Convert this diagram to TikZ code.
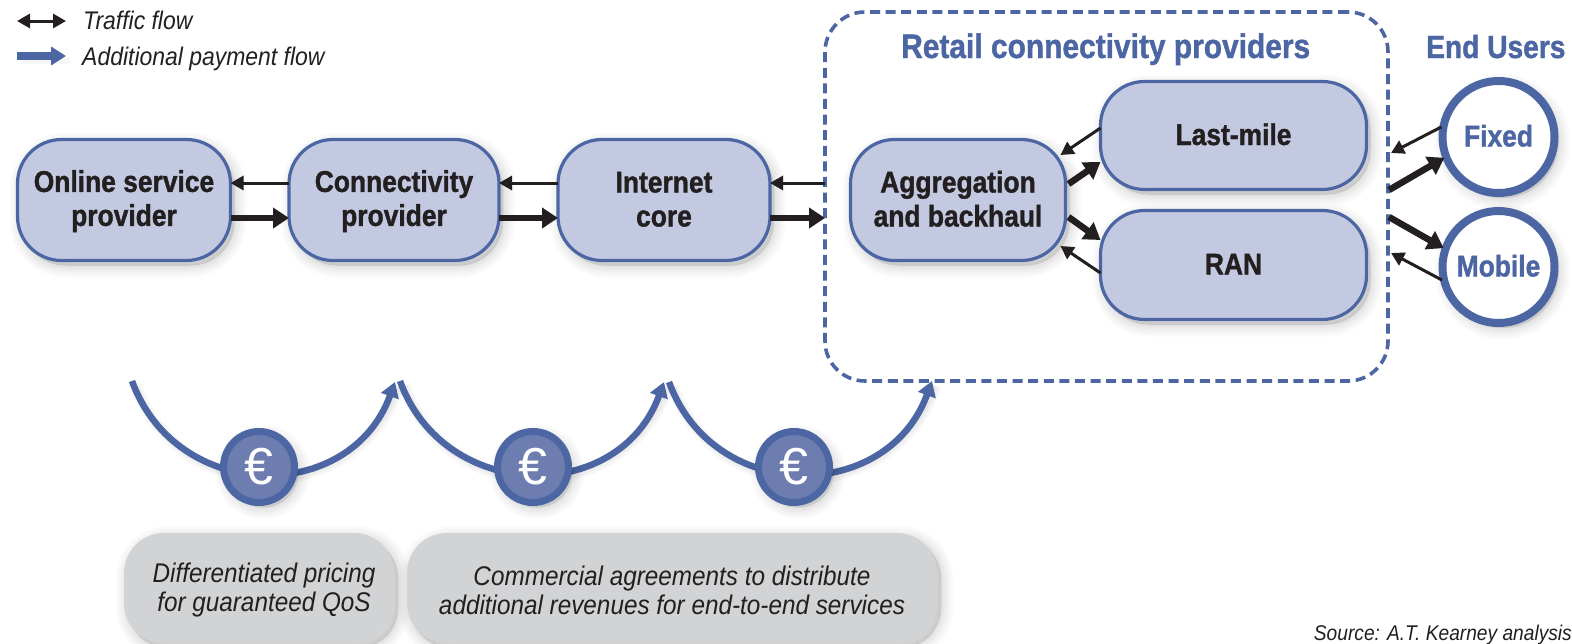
\documentclass[tikz,border=0pt]{standalone}
\usepackage{fontspec}
\setmainfont{Liberation Sans}
\newfontfamily\condbold[FakeStretch=0.88,FakeBold=1.2]{Liberation Sans Bold}
\newfontfamily\condital[FakeStretch=0.9]{Liberation Sans Italic}
\usetikzlibrary{arrows.meta,shadows,positioning}
\definecolor{bluemain}{HTML}{4C66A4}
\definecolor{boxfill}{HTML}{C3C9E0}
\definecolor{greybox}{HTML}{D1D3D4}
\definecolor{inkblack}{HTML}{231F20}
\definecolor{eurofill}{HTML}{6E7DAF}
\newcommand{\lblstrut}{\rule{0pt}{24pt}\rule[-5pt]{0pt}{5pt}}
\tikzset{
  x=1pt,y=-1pt,
  softlayer/.style={general shadow={shadow xshift=4pt,shadow yshift=-5pt,draw=black,fill=black,draw opacity=.015,fill opacity=.015,line width=#1,dash pattern=on 1pt off 0pt}},
  softshadow/.style={softlayer=24pt,softlayer=20pt,softlayer=16pt,softlayer=12pt,softlayer=9pt,softlayer=6pt,softlayer=3pt,softlayer=1pt},
  flowbox/.style={draw=bluemain,fill=boxfill,line width=3.2pt,rounded corners=44pt,align=center,inner sep=0pt,outer sep=0pt,
    text=inkblack,font=\condbold\fontsize{30}{34}\selectfont,softshadow},
  userdisc/.style={circle,draw=bluemain,fill=white,line width=8pt,minimum size=112pt,inner sep=0pt,outer sep=2pt,
    text=bluemain,font=\condbold\fontsize{30}{34}\selectfont,softshadow},
  retailbox/.style={draw=bluemain,line width=3.6pt,dash pattern=on 10pt off 5.6pt,rounded corners=40pt,inner sep=0pt,outer sep=0pt},
  eurodisc/.style={circle,draw=bluemain,fill=eurofill,line width=7pt,minimum size=71pt,inner sep=0pt,outer sep=0pt,
    text=white,font=\fontsize{52}{52}\selectfont,softshadow},
  notebox/.style={fill=greybox,rounded corners=40pt,align=center,inner sep=0pt,outer sep=0pt,text=inkblack,
    font=\condital\fontsize{27}{29}\selectfont,softshadow},
  headline/.style={text=bluemain,inner sep=0pt,anchor=base west},
  legendtext/.style={text=inkblack,font=\condital\fontsize{25.5}{30}\selectfont,inner sep=0pt,anchor=base west},
  thinflow/.style={draw=inkblack,line width=3pt,-{Triangle[length=13pt,width=14pt]}},
  thickflow/.style={draw=inkblack,line width=6.5pt,-{Triangle[length=16pt,width=20pt]}},
  payarc/.style={draw=bluemain,line width=6.5pt,-{Triangle[length=15pt,width=18pt]}},
  arcshade/.style={preaction={draw=black,draw opacity=.03,line width=#1,-,transform canvas={shift={(4pt,-5pt)}}}},
}
\begin{document}
\begin{tikzpicture}
\useasboundingbox (0,0) rectangle (1572,643);
% legend
\coordinate (lega) at (17,21);
\coordinate (legb) at (66,21);
\coordinate (legc) at (17,56);
\coordinate (legd) at (66,56);
\draw[draw=inkblack,line width=3pt,{Triangle[length=13pt,width=14pt]}-{Triangle[length=13pt,width=14pt]}] (lega) -- (legb);
\draw[draw=bluemain,line width=8pt,-{Triangle[length=15pt,width=18pt]},arcshade=6pt] (legc) -- (legd);
\node[legendtext] (legtraffic) at (83,29.5) {Traffic flow};
\node[legendtext] (legpay) at (82,65) {Additional payment flow};
% retail group
\node[retailbox,minimum width=563pt,minimum height=369pt] (retail) at (1106.5,196.5) {};
\node[headline,font=\condbold\fontsize{34}{36}\selectfont] (retailtitle) at (901,58) {Retail connectivity providers};
\node[headline,font=\condbold\fontsize{32}{36}\selectfont] (usertitle) at (1426,58) {End Users};
% boxes
\node[flowbox,minimum width=213pt,minimum height=121pt] (online) at (124,200) {\lblstrut Online service\\\lblstrut provider};
\node[flowbox,minimum width=210pt,minimum height=121pt] (conn) at (394,200) {\lblstrut Connectivity\\\lblstrut provider};
\node[flowbox,minimum width=212pt,minimum height=121pt] (core) at (664,200) {\lblstrut Internet\\\lblstrut core};
\node[flowbox,minimum width=215pt,minimum height=121pt] (agg) at (958,200) {\lblstrut Aggregation\\\lblstrut and backhaul};
\node[flowbox,minimum width=266pt,minimum height=108pt] (last) at (1233.5,135.5) {\lblstrut Last-mile};
\node[flowbox,minimum width=266pt,minimum height=109pt] (ran) at (1233.5,265) {\lblstrut RAN};
\node[userdisc] (fixed) at (1498.5,137) {\lblstrut Fixed};
\node[userdisc] (mobile) at (1498.5,267) {\lblstrut Mobile};
% horizontal flows
\draw[thinflow] ([shift={(0,-17)}]conn.west) -- ([shift={(0,-17)}]online.east);
\draw[thickflow] ([shift={(0,18)}]online.east) -- ([shift={(0,18)}]conn.west);
\draw[thinflow] ([shift={(0,-17)}]core.west) -- ([shift={(0,-17)}]conn.east);
\draw[thickflow] ([shift={(0,18)}]conn.east) -- ([shift={(0,18)}]core.west);
\draw[thinflow] ([shift={(0,-17)}]retail.west |- core.center) -- ([shift={(0,-17)}]core.east);
\draw[thickflow] ([shift={(0,18)}]core.east) -- ([shift={(0,18)}]retail.west |- core.center);
% last-mile, RAN
\draw[thinflow] ([shift={(0,-7.5)}]last.west) -- ([shift={(-5,-45)}]agg.east);
\draw[thickflow] ([shift={(3,-16)}]agg.east) -- ([shift={(0,26.5)}]last.west);
\draw[thickflow] ([shift={(3,17)}]agg.east) -- ([shift={(0,-25)}]ran.west);
\draw[thinflow] ([shift={(0,8)}]ran.west) -- ([shift={(-5,46)}]agg.east);
% end users
\draw[thinflow] (fixed.170) -- ([shift={(3,-43.5)}]retail.east);
\draw[thickflow] ([shift={(1,-6.5)}]retail.east) -- (fixed.201);
\draw[thickflow] ([shift={(1,20.5)}]retail.east) -- (mobile.161);
\draw[thinflow] (mobile.193) -- ([shift={(3,56.5)}]retail.east);
% payment arcs
\coordinate (arcAs) at (132,381);
\coordinate (arcAe) at (395,382);
\coordinate (arcBs) at (400,381);
\coordinate (arcBe) at (664,382);
\coordinate (arcCs) at (669,382);
\coordinate (arcCe) at (932,381);
\draw[payarc,arcshade=12pt,arcshade=7pt,arcshade=2pt] (arcAs) .. controls +(44.7,122.8) and +(-44.7,122.8) .. (arcAe);
\draw[payarc,arcshade=12pt,arcshade=7pt,arcshade=2pt] (arcBs) .. controls +(44.7,122.8) and +(-44.7,122.8) .. (arcBe);
\draw[payarc,arcshade=12pt,arcshade=7pt,arcshade=2pt] (arcCs) .. controls +(44.7,122.8) and +(-44.7,122.8) .. (arcCe);
\node[eurodisc] (euroA) at (259,467) {€};
\node[eurodisc] (euroB) at (533,467) {€};
\node[eurodisc] (euroC) at (794,467) {€};
% notes
\node[notebox,minimum width=270pt,minimum height=110pt] (noteA) at (259,588) {\rule{0pt}{24pt}\hspace*{10pt}Differentiated pricing\\\hspace*{10pt}for guaranteed QoS};
\node[notebox,minimum width=530pt,minimum height=110pt] (noteB) at (672,588) {\rule{0pt}{24pt}Commercial agreements to distribute\\additional revenues for end-to-end services};
\node[text=inkblack,font=\condital\fontsize{21.3}{24}\selectfont,inner sep=0pt,anchor=base east] (source) at (1572,640) {Source: A.T. Kearney analysis};
\end{tikzpicture}
\end{document}
